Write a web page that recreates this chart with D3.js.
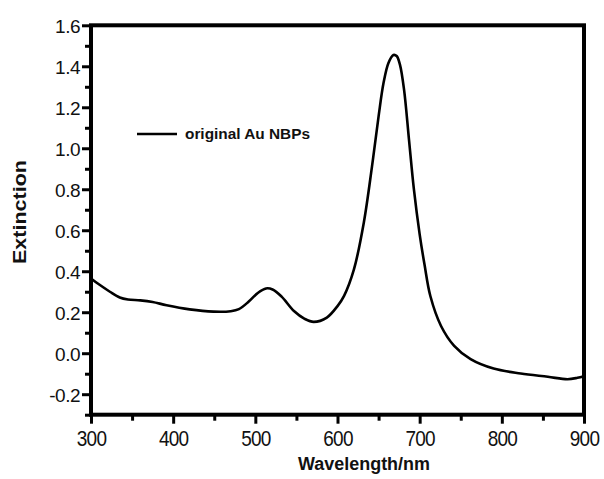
<!DOCTYPE html>
<html>
<head>
<meta charset="utf-8">
<script src="https://cdn.jsdelivr.net/npm/d3@7"></script>
<style>
  html, body { margin: 0; padding: 0; background: #fff; }
  svg { display: block; font-family: "Liberation Sans", Arial, Helvetica, sans-serif; }
</style>
</head>
<body>
<svg id="chart" width="604" height="479"></svg>
<script>
// ---- data ----
const wavelength = [300, 310, 323, 335, 345, 360, 375, 392, 420, 449, 470, 480, 492, 503, 513, 521, 532, 547, 560, 571, 587, 600, 608, 620, 632, 642, 650, 656, 662, 668, 672, 676, 681, 687, 693, 700, 706, 713, 726, 742, 762, 790, 823, 856, 880, 892, 900];
const extinction = [0.365, 0.335, 0.300, 0.272, 0.262, 0.258, 0.250, 0.234, 0.214, 0.203, 0.205, 0.215, 0.252, 0.294, 0.316, 0.311, 0.276, 0.206, 0.168, 0.153, 0.174, 0.230, 0.280, 0.409, 0.637, 0.912, 1.156, 1.318, 1.416, 1.455, 1.450, 1.408, 1.286, 1.042, 0.799, 0.580, 0.430, 0.279, 0.133, 0.036, -0.029, -0.075, -0.099, -0.115, -0.127, -0.120, -0.112];
const xTicks = [300, 400, 500, 600, 700, 800, 900];
const xMinorTicks = [350, 450, 550, 650, 750, 850];
const yTicks = [-0.2, 0.0, 0.2, 0.4, 0.6, 0.8, 1.0, 1.2, 1.4, 1.6];
const yMinorTicks = [-0.3, -0.1, 0.1, 0.3, 0.5, 0.7, 0.9, 1.1, 1.3, 1.5];
const seriesName = "original Au NBPs";
const xTitle = "Wavelength/nm";
const yTitle = "Extinction";

// ---- layout ----
const svg = d3.select("#chart");
const pL = 91, pR = 584, pT = 25.3, pB = 414.7;
const x = d3.scaleLinear().domain([300, 900]).range([pL, pR]);
const y = d3.scaleLinear().domain([-0.3, 1.6]).range([pB, pT]);

const axisW = 4;

// minor ticks y
const gy = svg.append("g").attr("transform", `translate(${pL},0)`);
gy.call(d3.axisLeft(y).tickValues(yMinorTicks).tickSize(6).tickFormat(""));
gy.select(".domain").remove();
gy.selectAll("line").attr("stroke", "#000").attr("stroke-width", 3);

const gyM = svg.append("g").attr("transform", `translate(${pL},0)`);
gyM.call(d3.axisLeft(y).tickValues(yTicks).tickSize(9).tickPadding(2).tickFormat(d => d.toFixed(1)));
gyM.select(".domain").remove();
gyM.selectAll("line").attr("stroke", "#000").attr("stroke-width", 3);
gyM.selectAll("text").attr("fill", "#111").style("font-size", "19px").style("letter-spacing", "-0.5px").attr("dy", "0.36em");

// x ticks
const gx = svg.append("g").attr("transform", `translate(0,${pB})`);
gx.call(d3.axisBottom(x).tickValues(xMinorTicks).tickSize(6).tickFormat(""));
gx.select(".domain").remove();
gx.selectAll("line").attr("stroke", "#000").attr("stroke-width", 3);

const gxM = svg.append("g").attr("transform", `translate(0,${pB})`);
gxM.call(d3.axisBottom(x).tickValues(xTicks).tickSize(9).tickPadding(0).tickFormat(d => String(d)));
gxM.select(".domain").remove();
gxM.selectAll("line").attr("stroke", "#000").attr("stroke-width", 3);
gxM.selectAll("text").attr("fill", "#111").style("font-size", "19px").style("letter-spacing", "-0.8px")
  .attr("y", 0).attr("dy", 0)
  .attr("transform", "translate(0,31) scale(1,1.15)");

// frame
svg.append("rect")
  .attr("x", pL).attr("y", pT)
  .attr("width", pR - pL).attr("height", pB - pT)
  .attr("fill", "none").attr("stroke", "#000").attr("stroke-width", axisW);

// curve
const line = d3.line()
  .x((d, i) => x(wavelength[i]))
  .y(d => y(d))
  .curve(d3.curveCatmullRom.alpha(0.5));
svg.append("path")
  .datum(extinction)
  .attr("d", line)
  .attr("fill", "none")
  .attr("stroke", "#000")
  .attr("stroke-width", 2.6)
  .attr("stroke-linejoin", "round");

// legend
svg.append("line")
  .attr("x1", 137).attr("x2", 177).attr("y1", 134).attr("y2", 134)
  .attr("stroke", "#000").attr("stroke-width", 2.6);
svg.append("text")
  .attr("x", 185).attr("y", 139)
  .attr("textLength", 125).attr("lengthAdjust", "spacingAndGlyphs")
  .style("font-size", "14px").style("font-weight", "bold").attr("fill", "#111")
  .text(seriesName);

// axis titles
svg.append("text")
  .attr("x", 364).attr("y", 470)
  .attr("text-anchor", "middle")
  .attr("textLength", 132).attr("lengthAdjust", "spacingAndGlyphs")
  .style("font-size", "18px").style("font-weight", "bold").attr("fill", "#111")
  .text(xTitle);

svg.append("text")
  .attr("transform", "translate(26,212) rotate(-90)")
  .attr("text-anchor", "middle")
  .attr("textLength", 104).attr("lengthAdjust", "spacingAndGlyphs")
  .style("font-size", "19px").style("font-weight", "bold").attr("fill", "#111")
  .text(yTitle);
</script>
</body>
</html>
